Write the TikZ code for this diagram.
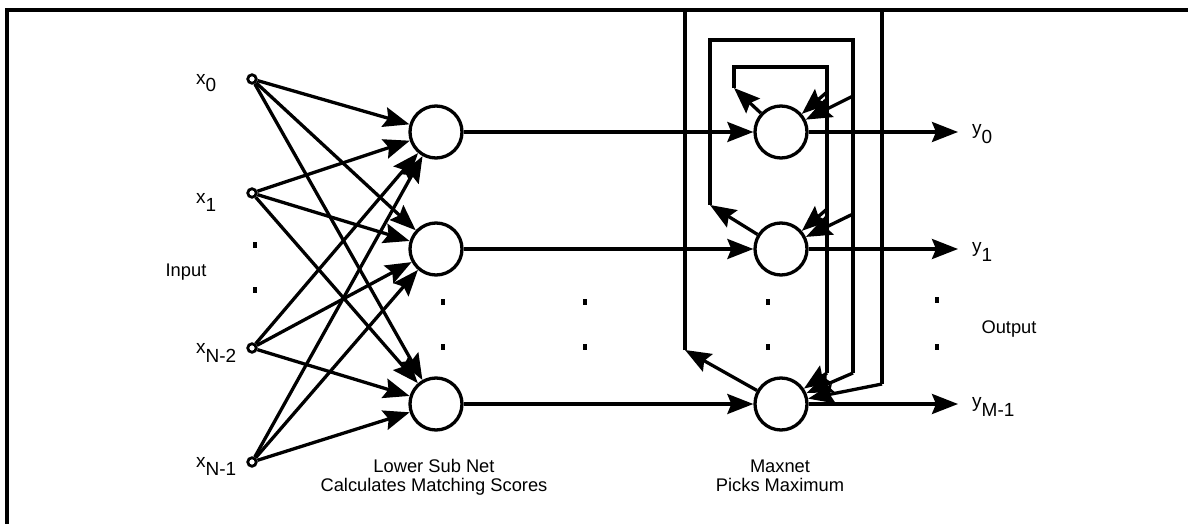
\documentclass[tikz,border=0pt]{standalone}
\usepackage{fontspec}
\setmainfont{Liberation Sans}
\usetikzlibrary{arrows.meta}
\begin{document}
\begin{tikzpicture}[x=1pt,y=-1pt,
  ln/.style={line width=3.3pt},
  arr/.style={ln,-{Stealth[length=26pt,width=20pt,inset=4pt]}},
  inp/.style={circle,draw,line width=2.8pt,inner sep=0pt,minimum size=8.5pt,fill=white},
  neuron/.style={circle,draw,line width=3.3pt,inner sep=0pt,minimum size=52pt,fill=white},
  lbl/.style={font=\fontsize{18.3}{21}\selectfont,anchor=base,inner sep=0pt},
  sym/.style={font=\fontsize{19}{22}\selectfont,anchor=base west,inner sep=0pt},
  dotm/.style={fill=black,rectangle,minimum width=3.5pt,minimum height=5.5pt,inner sep=0pt}
]
\useasboundingbox (0,0) rectangle (1188,524);
% frame
\draw[ln] (7,524) -- (7,10) -- (1188,10);

% input nodes
\node[inp] (in0) at (252,79) {};
\node[inp] (in1) at (252,193) {};
\node[inp] (in2) at (252,348) {};
\node[inp] (in3) at (252,462) {};
\node[sym] (tx0) at (196,85) {x\raisebox{-7pt}{0}};
\node[sym] (tx1) at (196,203) {x\raisebox{-8pt}{1}};
\node[sym] (tx2) at (196,353) {x\raisebox{-9pt}{N-2}};
\node[sym] (tx3) at (196,467) {x\raisebox{-8pt}{N-1}};
\node[lbl] (tin) at (186,276) {Input};

% lower sub net
\node[neuron] (l0) at (436,132) {};
\node[neuron] (l1) at (436,249) {};
\node[neuron] (l2) at (436,404) {};

% maxnet
\node[neuron] (m0) at (781,132) {};
\node[neuron] (m1) at (781,249) {};
\node[neuron] (m2) at (781,404) {};

% dots
\node[dotm] (d1) at (255,245) {};
\node[dotm] (d2) at (255,290) {};
\node[dotm] (d3) at (443,302) {};
\node[dotm] (d4) at (443,347) {};
\node[dotm] (d5) at (585,302) {};
\node[dotm] (d6) at (585,347) {};
\node[dotm] (d7) at (768,302) {};
\node[dotm] (d8) at (768,347) {};
\node[dotm] (d9) at (937,300) {};
\node[dotm] (d10) at (937,347) {};

% input connections
\foreach \i in {in0,in1,in2,in3}
  \foreach \j in {l0,l1,l2}
    \draw[arr] (\i) -- (\j);

% lower to maxnet
\draw[arr] (l0) -- (m0);
\draw[arr] (l1) -- (m1);
\draw[arr] (l2) -- (m2);

% outputs
\coordinate (o0) at (958,132);
\coordinate (o1) at (958,249);
\coordinate (o2) at (958,404);
\draw[arr] (m0) -- (o0);
\draw[arr] (m1) -- (o1);
\draw[arr] (m2) -- (o2);
\node[sym] (ty0) at (972,135) {y\raisebox{-9pt}{0}};
\node[sym] (ty1) at (972,252) {y\raisebox{-9pt}{1}};
\node[sym] (ty2) at (972,407) {y\raisebox{-9pt}{M-1}};
\node[lbl] (tout) at (1009,333) {Output};

% feedback loop A (from m0)
\coordinate (a0) at (734,88);
\coordinate (a1) at (734,67);
\coordinate (a2) at (827,67);
\coordinate (a3) at (827,373);
\coordinate (ab0) at (827,92);
\coordinate (ab1) at (827,209);
\draw[arr] (m0) -- (a0);
\draw[ln] (a0) -- (a1) -- (a2) -- (a3);
\draw[arr] (a3) -- (m2);
\draw[arr] (ab0) -- (m0);
\draw[arr] (ab1) -- (m1);

% feedback loop B (from m1)
\coordinate (b0) at (710,205);
\coordinate (b1) at (710,40);
\coordinate (b2) at (853,40);
\coordinate (b3) at (853,373);
\coordinate (bb0) at (853,96);
\coordinate (bb1) at (853,214);
\draw[arr] (m1) -- (b0);
\draw[ln] (b0) -- (b1) -- (b2) -- (b3);
\draw[arr] (b3) -- (m2);
\draw[arr] (bb0) -- (m0);
\draw[arr] (bb1) -- (m1);

% feedback loop C (from m2)
\coordinate (c0) at (685,350);
\coordinate (c1) at (685,10);
\coordinate (c2) at (882,10);
\coordinate (c3) at (882,384);
\draw[arr] (m2) -- (c0);
\draw[ln] (c0) -- (c1) -- (c2) -- (c3);
\draw[arr] (c3) -- (m2);

% captions
\node[lbl] (cap1) at (434,472) {Lower Sub Net};
\node[lbl] (cap2) at (434,491) {Calculates Matching Scores};
\node[lbl] (cap3) at (780,472) {Maxnet};
\node[lbl] (cap4) at (780,491) {Picks Maximum};
\end{tikzpicture}
\end{document}
